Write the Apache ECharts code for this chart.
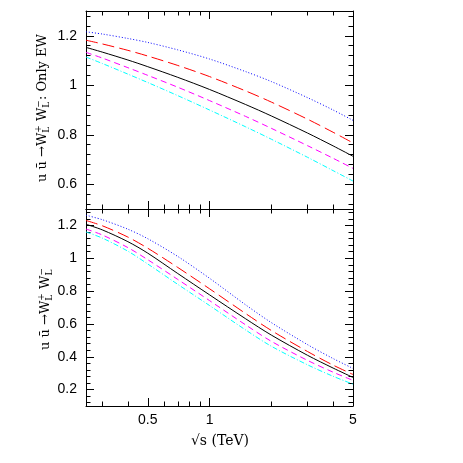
<!DOCTYPE html>
<html><head><meta charset="utf-8">
<script src="https://cdn.jsdelivr.net/npm/echarts@6/dist/echarts.min.js"></script>
<style>html,body{margin:0;padding:0;background:#fff}#c{width:463px;height:463px}</style>
</head><body><div id="c"></div>
<script>
// sqrt(s) in TeV
const sqrtS = [0.25, 0.3, 0.4, 0.5, 0.7, 1, 1.5, 2, 3, 4, 5];
// Top panel: u ubar -> W_L+ W_L- : Only EW
const topBlue    = [1.216, 1.207, 1.189, 1.173, 1.143, 1.106, 1.055, 1.015, 0.950, 0.900, 0.858];
const topRed     = [1.182, 1.167, 1.141, 1.118, 1.080, 1.035, 0.977, 0.932, 0.863, 0.810, 0.767];
const topBlack   = [1.153, 1.134, 1.102, 1.075, 1.032, 0.983, 0.922, 0.876, 0.807, 0.755, 0.713];
const topMagenta = [1.133, 1.110, 1.071, 1.040, 0.992, 0.938, 0.874, 0.826, 0.756, 0.705, 0.664];
const topCyan    = [1.114, 1.088, 1.045, 1.011, 0.958, 0.900, 0.832, 0.782, 0.709, 0.655, 0.613];
// Bottom panel: u ubar -> W_L+ W_L-
const botBlue    = [1.262, 1.235, 1.177, 1.119, 1.011, 0.878, 0.716, 0.608, 0.474, 0.389, 0.329];
const botRed     = [1.230, 1.198, 1.129, 1.061, 0.944, 0.814, 0.663, 0.560, 0.432, 0.349, 0.292];
const botBlack   = [1.207, 1.173, 1.101, 1.031, 0.907, 0.777, 0.631, 0.532, 0.409, 0.331, 0.274];
const botMagenta = [1.178, 1.142, 1.065, 0.991, 0.871, 0.742, 0.594, 0.494, 0.378, 0.306, 0.256];
const botCyan    = [1.160, 1.123, 1.043, 0.965, 0.841, 0.712, 0.563, 0.464, 0.351, 0.281, 0.233];

const xRange = [0.25, 5];
const xLabelTicks = [0.5, 1, 5];
const xMajorTicks = [0.5, 1];
const xMinorTicks = [0.3, 0.4, 0.6, 0.7, 0.8, 0.9, 2, 3, 4];
const topYRange = [0.5, 1.3];
const topYLabels = [0.6, 0.8, 1, 1.2];
const botYRange = [0.1, 1.3];
const botYLabels = [0.2, 0.4, 0.6, 0.8, 1, 1.2];
const yMinorStep = 0.04;

const L = Math.log10;
function minorList(range, anchor) {
  const out = [];
  for (let k = -100; k <= 100; k++) {
    const v = Math.round((anchor + k * yMinorStep) * 1000) / 1000;
    if (v > range[0] + 1e-9 && v < range[1] - 1e-9) out.push(v);
  }
  return out;
}

const styles = [
  {color: '#0000ff', type: [1, 2]},
  {color: '#ff0000', type: [12, 5]},
  {color: '#000000', type: 'solid'},
  {color: '#ff00ff', type: [6, 4]},
  {color: '#00ffff', type: [5, 2, 1, 2]}
];
const names = ['blue', 'red', 'black', 'magenta', 'cyan'];
const topSets = [topBlue, topRed, topBlack, topMagenta, topCyan];
const botSets = [botBlue, botRed, botBlack, botMagenta, botCyan];

const grids = [
  {left: 86, top: 11, width: 267, height: 198},
  {left: 86, top: 209, width: 267, height: 197}
];
const lineStyle = {color: '#000', width: 1};
const tickFont = {fontFamily: 'Liberation Sans', fontSize: 14, color: '#000'};

function xAx(grid, pos, kind, showLabels) {
  return {
    type: 'value', gridIndex: grid, position: pos,
    min: L(xRange[0]), max: L(xRange[1]),
    axisLine: {show: kind === 'minor', onZero: false, lineStyle},
    axisTick: {show: true, inside: true, length: kind === 'minor' ? 4.5 : 8, lineStyle,
      customValues: (kind === 'minor' ? xMinorTicks : xMajorTicks).map(L)},
    axisLabel: showLabels ? Object.assign({show: true, margin: 7,
      customValues: xLabelTicks.map(L),
      formatter: v => String(parseFloat(Math.pow(10, v).toPrecision(3)))}, tickFont) : {show: false},
    splitLine: {show: false}
  };
}
function yAx(grid, pos, kind, range, labels, showLabels) {
  return {
    type: 'value', gridIndex: grid, position: pos,
    min: range[0], max: range[1],
    axisLine: {show: kind === 'major', onZero: false, lineStyle},
    axisTick: {show: true, inside: true, length: kind === 'major' ? 8 : 4.5, lineStyle,
      customValues: kind === 'major' ? labels : minorList(range, labels[0])},
    axisLabel: showLabels ? Object.assign({show: true, margin: 9, customValues: labels,
      formatter: v => String(v)}, tickFont) : {show: false},
    splitLine: {show: false}
  };
}

const xAxis = [];
const yAxis = [];
[0, 1].forEach(g => {
  xAxis.push(xAx(g, 'bottom', 'minor', g === 1));
  xAxis.push(xAx(g, 'bottom', 'major', false));
  xAxis.push(xAx(g, 'top', 'minor', false));
  xAxis.push(xAx(g, 'top', 'major', false));
  const r = g === 0 ? topYRange : botYRange;
  const lab = g === 0 ? topYLabels : botYLabels;
  yAxis.push(yAx(g, 'left', 'major', r, lab, true));
  yAxis.push(yAx(g, 'left', 'minor', r, lab, false));
  yAxis.push(yAx(g, 'right', 'major', r, lab, false));
  yAxis.push(yAx(g, 'right', 'minor', r, lab, false));
});

const series = [];
[topSets, botSets].forEach((sets, g) => {
  sets.forEach((vals, i) => {
    series.push({
      name: (g === 0 ? 'top-' : 'bottom-') + names[i],
      type: 'line', xAxisIndex: g * 4, yAxisIndex: g * 4,
      data: sqrtS.map((x, k) => [L(x), vals[k]]),
      smooth: 0.3, showSymbol: false, symbol: 'none', silent: true,
      lineStyle: {color: styles[i].color, type: styles[i].type, width: 1},
      z: 10 - i
    });
  });
});

// rotated axis titles with sub/superscripts
const mainFont = '13px "DejaVu Serif"';
const smallFont = '9px "DejaVu Serif"';
const mctx = document.createElement('canvas').getContext('2d');
function w(text, font) { mctx.font = font; return mctx.measureText(text).width; }
function buildTitle(cx, cy, parts) {
  let total = 0;
  const widths = parts.map(p => {
    const ww = p.t !== undefined ? w(p.t, mainFont) : Math.max(w(p.sup, smallFont), w(p.sub, smallFont));
    total += ww; return ww;
  });
  let pos = -total / 2;
  const children = [];
  parts.forEach((p, i) => {
    if (p.t !== undefined) {
      children.push({type: 'text', x: pos, y: 0,
        style: {text: p.t, font: mainFont, fill: '#000', align: 'left', verticalAlign: 'middle'}});
    } else {
      children.push({type: 'text', x: pos, y: -4.5,
        style: {text: p.sup, font: smallFont, fill: '#000', align: 'left', verticalAlign: 'middle'}});
      children.push({type: 'text', x: pos, y: 4,
        style: {text: p.sub, font: smallFont, fill: '#000', align: 'left', verticalAlign: 'middle'}});
    }
    pos += widths[i];
  });
  return {type: 'group', x: cx, y: cy, rotation: Math.PI / 2, children};
}
const topTitle = [{t: 'u ū →W'}, {sup: '+', sub: 'L'}, {t: ' W'}, {sup: '−', sub: 'L'}, {t: ': Only EW'}];
const botTitle = [{t: 'u ū →W'}, {sup: '+', sub: 'L'}, {t: ' W'}, {sup: '−', sub: 'L'}];

const chart = echarts.init(document.getElementById('c'), null, {renderer: 'canvas'});
chart.setOption({
  backgroundColor: '#fff',
  animation: false,
  grid: grids,
  xAxis, yAxis, series,
  graphic: [
    buildTitle(43, 108, topTitle),
    buildTitle(46, 309, botTitle),
    {type: 'text', x: 220, y: 441,
      style: {text: '√s (TeV)', font: '14px "DejaVu Serif"', fill: '#000', align: 'center', verticalAlign: 'middle'}}
  ]
});
</script>
</body></html>
